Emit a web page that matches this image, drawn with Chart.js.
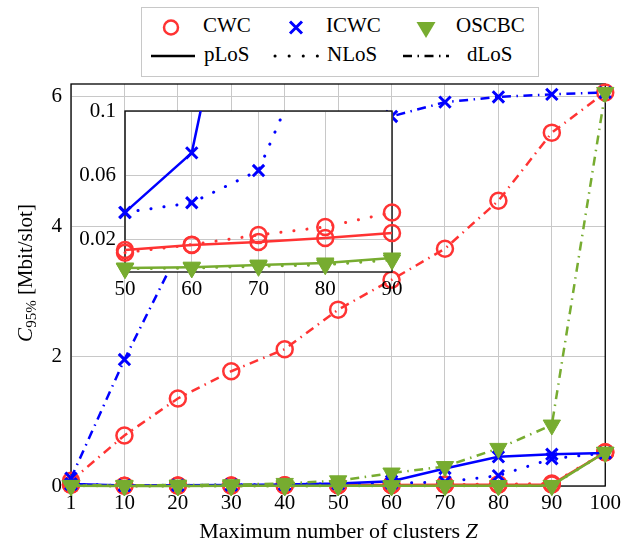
<!DOCTYPE html>
<html>
<head>
<meta charset="utf-8">
<script src="https://cdn.jsdelivr.net/npm/chart.js@4.4.1/dist/chart.umd.min.js"></script>
<style>
  body { margin: 0; background: #fff; }
  #wrap { position: relative; width: 626px; height: 544px; font-family: "Liberation Serif", "Times New Roman", Times, "DejaVu Serif", serif; color: #000; }
  #wrap canvas { position: absolute; left: 0; top: 0; }
  .txt { position: absolute; font-size: 21px; line-height: 21px; white-space: nowrap; }
  #legend { position: absolute; left: 141px; top: 7px; width: 396px; height: 68px; border: 1px solid #c8c8c8; background: #fff; }
  #legicons { position: absolute; left: 0; top: 0; }
  #ytitle { position: absolute; left: -125px; top: 261px; width: 300px; text-align: center; transform: rotate(-90deg); font-size: 21px; line-height: 24px; }
  #ytitle sub { font-size: 15px; vertical-align: -4px; line-height: 0; }
  #xtitle { left: 71px; width: 535px; top: 520px; text-align: center; font-size: 22px; }
</style>
</head>
<body>
<div id="wrap">
  <canvas id="mainChart" width="626" height="544"></canvas>
  <canvas id="insetChart" width="626" height="544"></canvas>
  <div id="legend"></div>
  <svg id="legicons" width="626" height="90">
    <circle cx="171" cy="27.5" r="7" fill="none" stroke="#ff3333" stroke-width="2.5"/>
    <path d="M290 21.5 L302 33.5 M302 21.5 L290 33.5" stroke="#0000ff" stroke-width="3"/>
    <path d="M416.5 22 L435.5 22 L426 38 Z" fill="#77ac30"/>
    <line x1="151" y1="56" x2="195" y2="56" stroke="#000" stroke-width="2.6"/>
    <line x1="275" y1="56" x2="318" y2="56" stroke="#000" stroke-width="3" stroke-linecap="round" stroke-dasharray="0.1 14"/>
    <line x1="403" y1="56" x2="449" y2="56" stroke="#000" stroke-width="2.6" stroke-dasharray="9 5.5 1.5 5.5"/>
  </svg>
  <div class="txt" style="left:203px;top:15px">CWC</div>
  <div class="txt" style="left:326px;top:15px">ICWC</div>
  <div class="txt" style="left:456px;top:15px">OSCBC</div>
  <div class="txt" style="left:204px;top:44px">pLoS</div>
  <div class="txt" style="left:327px;top:44px">NLoS</div>
  <div class="txt" style="left:467px;top:44px">dLoS</div>
  <div id="ytitle"><i>C</i><sub>95%</sub> [Mbit/slot]</div>
  <div id="xtitle" class="txt">Maximum number of clusters <i>Z</i></div>
</div>
<script>
const xLabels = ['1', '10', '20', '30', '40', '50', '60', '70', '80', '90', '100'];
const yTicks = [0, 2, 4, 6];
const insetYTicks = [0.02, 0.06, 0.1];

const cwcPLoS = [0.02, 0.005, 0.007, 0.009, 0.011, 0.0137, 0.0168, 0.0186, 0.0211, 0.0242, 0.52];
const cwcNLoS = [0.02, 0.005, 0.006, 0.008, 0.010, 0.012, 0.017, 0.023, 0.028, 0.037, 0.52];
const cwcDLoS = [0.08, 0.78, 1.35, 1.77, 2.11, 2.72, 3.18, 3.66, 4.4, 5.45, 6.07];
const icwcPLoS = [0.03, 0.008, 0.012, 0.017, 0.025, 0.037, 0.074, 0.27, 0.45, 0.49, 0.51];
const icwcNLoS = [0.03, 0.007, 0.011, 0.016, 0.024, 0.037, 0.043, 0.063, 0.16, 0.42, 0.51];
const icwcDLoS = [0.12, 1.95, 3.6, 4.6, 5.15, 5.5, 5.7, 5.92, 6.0, 6.04, 6.07];
const oscbcPLoS = [0.004, 0.001, 0.0015, 0.002, 0.002, 0.0025, 0.003, 0.0043, 0.0056, 0.0087, 0.52];
const oscbcNLoS = [0.004, 0.001, 0.0012, 0.0015, 0.0018, 0.002, 0.0025, 0.0035, 0.0045, 0.0075, 0.52];
const oscbcDLoS = [0.01, 0.01, 0.015, 0.02, 0.04, 0.08, 0.2, 0.3, 0.58, 0.94, 6.07];

const RED = '#ff3333', BLUE = '#0000ff', GREEN = '#77ac30';
const FONT = { family: '"Liberation Serif", "Times New Roman", Times, "DejaVu Serif", serif', size: 21 };
const DASH = { p: [], n: [0.1, 13], d: [9, 5.5, 1.5, 5.5] };

// marqueurs par méthode
const marks = {
  cwc: { color: RED, pointStyle: 'circle', pointRadius: 8, pointBorderWidth: 2.5, pointBackgroundColor: 'rgba(0,0,0,0)', order: 3 },
  icwc: { color: BLUE, pointStyle: 'crossRot', pointRadius: 8, pointBorderWidth: 3, pointBackgroundColor: BLUE, order: 2 },
  oscbc: { color: GREEN, pointStyle: 'triangle', pointRadius: 10, pointBorderWidth: 1, pointBackgroundColor: GREEN, pointRotation: 180, order: 1 }
};

function makeSet(method, los, data) {
  const m = marks[method];
  return {
    label: method + ' ' + los,
    data: data,
    borderColor: m.color,
    borderWidth: los === 'n' ? 3 : 2.5,
    borderDash: DASH[los],
    borderCapStyle: los === 'n' ? 'round' : 'butt',
    pointStyle: m.pointStyle,
    pointRadius: m.pointRadius,
    pointBorderWidth: m.pointBorderWidth,
    pointBorderColor: m.color,
    pointBackgroundColor: m.pointBackgroundColor,
    pointRotation: m.pointRotation || 0,
    pointHoverRadius: m.pointRadius,
    order: m.order,
    tension: 0,
    fill: false
  };
}

const frame = {
  id: 'frame',
  beforeDraw(chart, args, opts) {
    if (!opts.fill) return;
    const a = chart.chartArea;
    chart.ctx.save();
    chart.ctx.fillStyle = '#fff';
    chart.ctx.fillRect(a.left, a.top, a.right - a.left, a.bottom - a.top);
    chart.ctx.restore();
  },
  beforeDatasetsDraw(chart) {
    const a = chart.chartArea, ctx = chart.ctx;
    ctx.save();
    ctx.strokeStyle = '#000';
    ctx.lineWidth = 1.3;
    ctx.strokeRect(a.left, a.top, a.right - a.left, a.bottom - a.top);
    ctx.restore();
  }
};

function axisX(height) {
  return {
    type: 'category',
    offset: false,
    grid: { color: '#c8c8c8', lineWidth: 1, drawTicks: false },
    border: { display: false },
    ticks: { color: '#000', font: FONT, padding: 5, maxRotation: 0, autoSkip: false },
    afterFit(s) { s.height = height; }
  };
}

function axisY(width, min, max, ticks) {
  return {
    min: min,
    max: max,
    grid: { color: '#c8c8c8', lineWidth: 1, drawTicks: false },
    border: { display: false },
    ticks: { color: '#000', font: FONT, padding: 9, callback: v => String(v) },
    afterBuildTicks(s) { s.ticks = ticks.map(v => ({ value: v })); },
    afterFit(s) { s.width = width; }
  };
}

new Chart(document.getElementById('mainChart'), {
  type: 'line',
  data: {
    labels: xLabels,
    datasets: [
      makeSet('cwc', 'p', cwcPLoS), makeSet('cwc', 'n', cwcNLoS), makeSet('cwc', 'd', cwcDLoS),
      makeSet('icwc', 'p', icwcPLoS), makeSet('icwc', 'n', icwcNLoS), makeSet('icwc', 'd', icwcDLoS),
      makeSet('oscbc', 'p', oscbcPLoS), makeSet('oscbc', 'n', oscbcNLoS), makeSet('oscbc', 'd', oscbcDLoS)
    ].map(d => Object.assign(d, { clip: false }))
  },
  options: {
    responsive: false,
    animation: false,
    devicePixelRatio: 1,
    layout: { padding: { left: 0, top: 84, right: 20, bottom: 0 } },
    plugins: { legend: { display: false }, tooltip: { enabled: false }, frame: {} },
    scales: { x: axisX(58), y: axisY(71, 0, 6.2, yTicks) }
  },
  plugins: [frame]
});

// encart : zoom 50..90, seulement pLoS et NLoS
const sl = arr => arr.slice(5, 10);
new Chart(document.getElementById('insetChart'), {
  type: 'line',
  data: {
    labels: sl(xLabels),
    datasets: [
      makeSet('cwc', 'p', sl(cwcPLoS)), makeSet('cwc', 'n', sl(cwcNLoS)),
      makeSet('icwc', 'p', sl(icwcPLoS)), makeSet('icwc', 'n', sl(icwcNLoS)),
      makeSet('oscbc', 'p', sl(oscbcPLoS)), makeSet('oscbc', 'n', sl(oscbcNLoS))
    ].map(d => Object.assign(d, { clip: { left: 15, top: 0, right: 15, bottom: 15 } }))
  },
  options: {
    responsive: false,
    animation: false,
    devicePixelRatio: 1,
    layout: { padding: { left: 0, top: 111, right: 234, bottom: 242 } },
    plugins: { legend: { display: false }, tooltip: { enabled: false }, frame: { fill: true } },
    scales: { x: axisX(30), y: axisY(125, 0, 0.1, insetYTicks) }
  },
  plugins: [frame]
});
</script>
</body>
</html>
